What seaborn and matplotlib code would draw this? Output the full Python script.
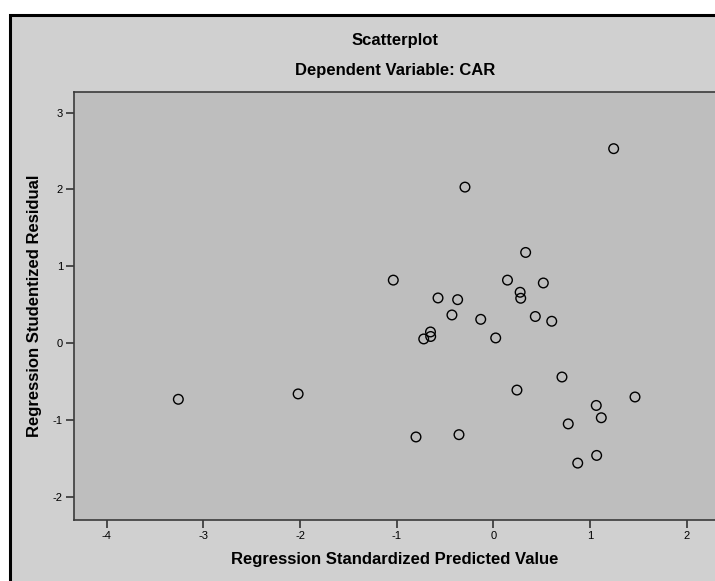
import matplotlib
matplotlib.use("Agg")
import matplotlib.pyplot as plt
import seaborn as sns
import pandas as pd
from matplotlib.patches import Rectangle

# Data
pred_value = [-3.26, -2.02, -1.035, -0.80, -0.72, -0.65, -0.648, -0.572, -0.428, -0.369,
              -0.355, -0.293, -0.13, 0.025, 0.147, 0.245, 0.278, 0.284, 0.335, 0.435,
              0.518, 0.605, 0.711, 0.776, 0.874, 1.066, 1.07, 1.118, 1.246, 1.467]
stud_resid = [-0.73, -0.66, 0.82, -1.22, 0.055, 0.146, 0.087, 0.588, 0.367, 0.566,
              -1.19, 2.03, 0.31, 0.068, 0.82, -0.61, 0.662, 0.584, 1.18, 0.347,
              0.783, 0.285, -0.44, -1.05, -1.56, -0.81, -1.46, -0.97, 2.53, -0.70]
x_ticks = [-4, -3, -2, -1, 0, 1, 2]
y_ticks = [-2, -1, 0, 1, 2, 3]

df = pd.DataFrame({'Predicted': pred_value, 'Residual': stud_resid})

sns.set_style('white')
plt.rcParams['font.family'] = ['Liberation Sans', 'DejaVu Sans']
plt.rcParams['axes.unicode_minus'] = False
plt.rcParams['text.color'] = 'black'
plt.rcParams['axes.labelcolor'] = 'black'
plt.rcParams['xtick.color'] = 'black'
plt.rcParams['ytick.color'] = 'black'

fig = plt.figure(figsize=(7.15, 5.81), dpi=100)
fig.patch.set_facecolor('white')

# outer light grey chart frame with thick black border (cut at right/bottom)
frame = Rectangle((9.5 / 715, -0.05), 1.1, 1 - 15.5 / 581 + 0.05,
                  transform=fig.transFigure, facecolor='#D0D0D0',
                  edgecolor='black', linewidth=2.2, zorder=-10)
fig.patches.append(frame)

ax = fig.add_axes([74 / 715, 1 - 520 / 581, 1 - 74 / 715, (520 - 92) / 581])
ax.set_facecolor('#BEBEBE')

# Scatter of hollow circles
sns.scatterplot(data=df, x='Predicted', y='Residual', ax=ax, marker='o',
                s=48, facecolors='none', edgecolor='black', linewidth=1.0)

ax.set_xlim(-4.34, 2.295)
ax.set_ylim(-2.30, 3.267)
ax.set_xticks(x_ticks)
ax.set_yticks(y_ticks)
ax.tick_params(axis='both', direction='out', length=6, width=1.2, color='#333333',
               labelsize=8, pad=2, bottom=True, left=True)

for side in ['left', 'bottom', 'top']:
    ax.spines[side].set_color('#3A3A3A')
    ax.spines[side].set_linewidth(1.2)
ax.spines['right'].set_visible(False)

ax.set_xlabel('Regression Standardized Predicted Value', fontsize=12, fontweight='bold', labelpad=8)
ax.set_ylabel('Regression Studentized Residual', fontsize=12, fontweight='bold', labelpad=8)

# Titles
fig.text(395 / 715, 1 - 41 / 581, 'Scatterplot', ha='center', va='center',
         fontsize=12, fontweight='bold')
fig.text(395 / 715, 1 - 71 / 581, 'Dependent Variable: CAR', ha='center', va='center',
         fontsize=12, fontweight='bold')

fig.savefig('out.png', dpi=100)
